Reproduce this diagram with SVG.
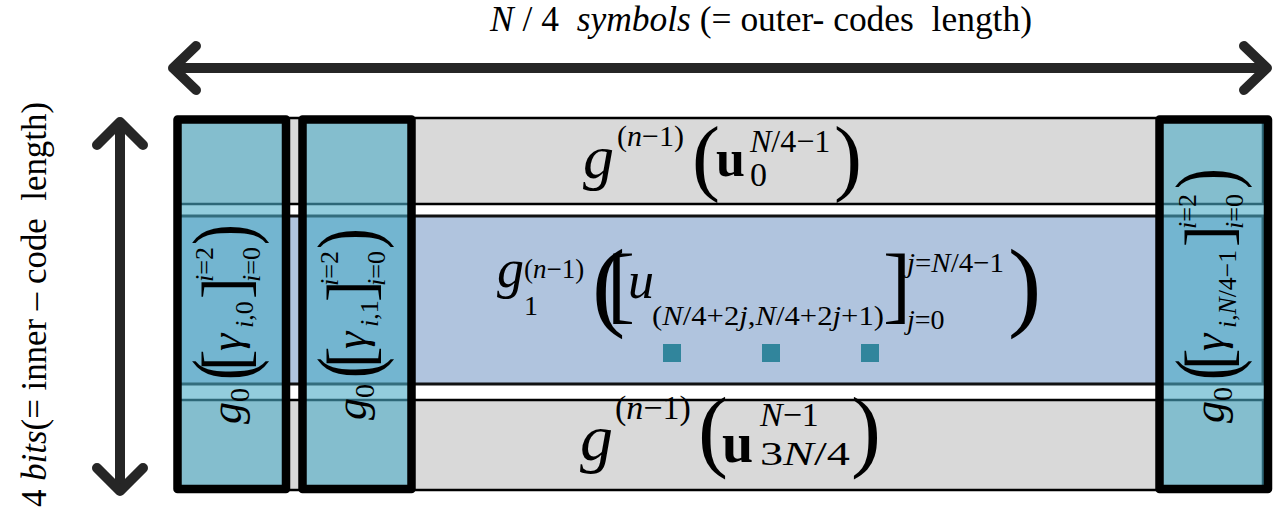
<svg xmlns="http://www.w3.org/2000/svg" width="1278" height="517" viewBox="0 0 1278 517">
<style>
.t{font-family:"Liberation Serif",serif}
.i{font-style:italic}
.b{font-weight:bold}
.row-gray{fill:#D9D9D9;stroke:#000;stroke-width:2.5}
.row-blue{fill:#B0C4DE;stroke:#111;stroke-width:3}
.col{fill:rgb(75,172,198);fill-opacity:0.6;stroke:#000;stroke-width:8.5;stroke-linejoin:round}
.arrow{fill:none;stroke:#262626;stroke-width:10;stroke-linecap:round;stroke-linejoin:round}
.dot{fill:#31859C}
</style>

<g id="dimension-arrows">
  <path class="arrow" d="M176,68 H1264"/>
  <polyline class="arrow" points="196,46 173,68 196,90"/>
  <polyline class="arrow" points="1244,46 1267,68 1244,90"/>
  <path class="arrow" d="M120,124 V488"/>
  <polyline class="arrow" points="97,145 120,122 143,145"/>
  <polyline class="arrow" points="97,468 120,491 143,468"/>
</g>

<g id="labels">
  <text class="t" font-family="Liberation Serif" x="490" y="31" font-size="35" xml:space="preserve" textLength="542" lengthAdjust="spacingAndGlyphs"><tspan class="i">N</tspan> / 4  <tspan class="i">symbols</tspan> (= outer- codes  length)</text>
  <text class="t" font-family="Liberation Serif" transform="translate(46,507) rotate(-90)" font-size="35" xml:space="preserve" textLength="405" lengthAdjust="spacingAndGlyphs">4 <tspan class="i">bits</tspan>(= inner – code  length)</text>
</g>

<g id="row-top">
  <rect class="row-gray" x="177" y="118" width="1086" height="86"/>
  <text class="t i" font-family="Liberation Serif" x="583" y="178" font-size="62">g</text>
  <text class="t" font-family="Liberation Serif" x="617" y="146" font-size="30">(<tspan class="i">n</tspan>−1)</text>
  <text class="t" font-family="Liberation Serif" x="692" y="185" font-size="84">(</text>
  <text class="t b" font-family="Liberation Serif" x="716" y="176" font-size="52">u</text>
  <text class="t" font-family="Liberation Serif" x="750" y="152" font-size="32"><tspan class="i">N</tspan>/4−1</text>
  <text class="t" font-family="Liberation Serif" x="750" y="186" font-size="34">0</text>
  <text class="t" font-family="Liberation Serif" x="834" y="185" font-size="84">)</text>
</g>

<g id="row-middle">
  <rect class="row-blue" x="177" y="216" width="1086" height="168"/>
  <text class="t i" font-family="Liberation Serif" x="497" y="287" font-size="54">g</text>
  <text class="t" font-family="Liberation Serif" x="524" y="278" font-size="27">(<tspan class="i">n</tspan>−1)</text>
  <text class="t" font-family="Liberation Serif" x="524" y="315" font-size="28">1</text>
  <text class="t" font-family="Liberation Serif" x="592" y="318" font-size="100">(</text>
  <text class="t" font-family="Liberation Serif" x="607" y="313" font-size="84">[</text>
  <text class="t i" font-family="Liberation Serif" x="628" y="298" font-size="52">u</text>
  <text class="t" font-family="Liberation Serif" x="652" y="325" font-size="28" textLength="232" lengthAdjust="spacingAndGlyphs">(<tspan class="i">N</tspan>/4+2<tspan class="i">j</tspan>,<tspan class="i">N</tspan>/4+2<tspan class="i">j</tspan>+1)</text>
  <text class="t" font-family="Liberation Serif" x="883" y="313" font-size="84">]</text>
  <text class="t" font-family="Liberation Serif" x="907" y="272" font-size="28" textLength="97" lengthAdjust="spacingAndGlyphs"><tspan class="i">j</tspan>=<tspan class="i">N</tspan>/4−1</text>
  <text class="t" font-family="Liberation Serif" x="907" y="329" font-size="28"><tspan class="i">j</tspan>=0</text>
  <text class="t" font-family="Liberation Serif" x="1008" y="318" font-size="100">)</text>
  <rect class="dot" x="663" y="344" width="18" height="18"/>
  <rect class="dot" x="762" y="344" width="18" height="18"/>
  <rect class="dot" x="861" y="344" width="18" height="18"/>
</g>

<g id="row-bottom">
  <rect class="row-gray" x="177" y="400" width="1086" height="90"/>
  <text class="t i" font-family="Liberation Serif" x="580" y="460" font-size="66">g</text>
  <text class="t" font-family="Liberation Serif" x="615" y="419" font-size="34">(<tspan class="i">n</tspan>−1)</text>
  <text class="t" font-family="Liberation Serif" x="698" y="460" font-size="90">(</text>
  <text class="t b" font-family="Liberation Serif" x="722" y="462" font-size="56">u</text>
  <text class="t" font-family="Liberation Serif" x="760" y="426" font-size="34"><tspan class="i">N</tspan>−1</text>
  <text class="t" font-family="Liberation Serif" x="760" y="465" font-size="34" textLength="90" lengthAdjust="spacingAndGlyphs">3<tspan class="i">N</tspan>/4</text>
  <text class="t" font-family="Liberation Serif" x="851" y="460" font-size="90">)</text>
</g>

<g id="column-0">
  <rect class="col" x="177.5" y="119.5" width="108.5" height="369.5"/>
  <g transform="translate(241,424) rotate(-90)">
    <text class="t i" font-family="Liberation Serif" x="0" y="0" font-size="44">g</text>
    <text class="t" font-family="Liberation Serif" x="22" y="8" font-size="28">0</text>
    <text class="t" font-family="Liberation Serif" transform="translate(44,9.5) scale(1,1.35)" font-size="62">(</text>
    <text class="t" font-family="Liberation Serif" x="53" y="6" font-size="65">[</text>
    <text class="t i" font-family="Liberation Serif" x="73" y="0" font-size="44">γ</text>
    <text class="t" font-family="Liberation Serif" x="96" y="12" font-size="26"><tspan class="i">i</tspan>,0</text>
    <text class="t" font-family="Liberation Serif" x="125" y="6" font-size="65">]</text>
    <text class="t" font-family="Liberation Serif" x="142" y="-28" font-size="26"><tspan class="i">i</tspan>=2</text>
    <text class="t" font-family="Liberation Serif" x="142" y="19" font-size="26"><tspan class="i">i</tspan>=0</text>
    <text class="t" font-family="Liberation Serif" transform="translate(179,9.5) scale(1,1.35)" font-size="62">)</text>
  </g>
</g>

<g id="column-1">
  <rect class="col" x="302.5" y="119.5" width="109" height="369.5"/>
  <g transform="translate(366,420) rotate(-90)">
    <text class="t i" font-family="Liberation Serif" x="0" y="0" font-size="44">g</text>
    <text class="t" font-family="Liberation Serif" x="22" y="8" font-size="28">0</text>
    <text class="t" font-family="Liberation Serif" transform="translate(42,9.5) scale(1,1.35)" font-size="62">(</text>
    <text class="t" font-family="Liberation Serif" x="52" y="6" font-size="65">[</text>
    <text class="t i" font-family="Liberation Serif" x="71" y="0" font-size="44">γ</text>
    <text class="t" font-family="Liberation Serif" x="93" y="12" font-size="26"><tspan class="i">i</tspan>,1</text>
    <text class="t" font-family="Liberation Serif" x="118" y="6" font-size="65">]</text>
    <text class="t" font-family="Liberation Serif" x="134" y="-28" font-size="26"><tspan class="i">i</tspan>=2</text>
    <text class="t" font-family="Liberation Serif" x="134" y="19" font-size="26"><tspan class="i">i</tspan>=0</text>
    <text class="t" font-family="Liberation Serif" transform="translate(171,9.5) scale(1,1.35)" font-size="62">)</text>
  </g>
</g>

<g id="column-last">
  <rect class="col" x="1159.5" y="119.5" width="108.5" height="369.5"/>
  <g transform="translate(1224,423) rotate(-90)">
    <text class="t i" font-family="Liberation Serif" x="0" y="0" font-size="44">g</text>
    <text class="t" font-family="Liberation Serif" x="22" y="8" font-size="28">0</text>
    <text class="t" font-family="Liberation Serif" transform="translate(43,9.5) scale(1,1.35)" font-size="62">(</text>
    <text class="t" font-family="Liberation Serif" x="53" y="6" font-size="65">[</text>
    <text class="t i" font-family="Liberation Serif" x="72" y="0" font-size="44">γ</text>
    <text class="t" font-family="Liberation Serif" x="95" y="12" font-size="26" textLength="78" lengthAdjust="spacingAndGlyphs"><tspan class="i">i</tspan>,<tspan class="i">N</tspan>/4−1</text>
    <text class="t" font-family="Liberation Serif" x="176" y="6" font-size="65">]</text>
    <text class="t" font-family="Liberation Serif" x="194" y="-28" font-size="26"><tspan class="i">i</tspan>=2</text>
    <text class="t" font-family="Liberation Serif" x="194" y="19" font-size="26"><tspan class="i">i</tspan>=0</text>
    <text class="t" font-family="Liberation Serif" transform="translate(234,9.5) scale(1,1.35)" font-size="62">)</text>
  </g>
</g>
</svg>
